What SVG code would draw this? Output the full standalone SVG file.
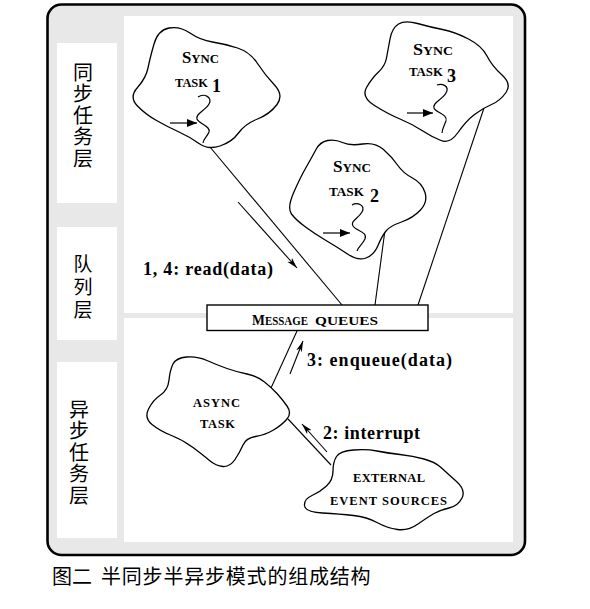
<svg xmlns="http://www.w3.org/2000/svg" width="590" height="609" viewBox="0 0 590 609">
<style>
.cloud{fill:#fff;stroke:#000;stroke-width:1.3}
.ln{fill:none;stroke:#000;stroke-width:1.1}
.sq{fill:none;stroke:#000;stroke-width:1.2}
.lbl{font-family:"Liberation Serif","Times New Roman",serif;font-weight:bold;fill:#000}
.cjk{font-family:"Noto Sans CJK SC","Noto Sans",sans-serif;fill:#000}
.vert{writing-mode:vertical-rl}
.panel{fill:#fff}
</style>
<defs>
<marker id="tri" markerWidth="10" markerHeight="8" refX="10" refY="4" orient="auto" markerUnits="userSpaceOnUse"><path d="M0,0 L10,4 L0,8 Z" fill="#000"/></marker>
<marker id="thin" markerWidth="11" markerHeight="6" refX="11" refY="3" orient="auto" markerUnits="userSpaceOnUse"><path d="M0,0 L11,3 L0,6 L3,3 Z" fill="#000"/></marker>
</defs>
<rect x="0" y="0" width="590" height="609" fill="#fff"/>
<g id="frame">
<rect x="47.5" y="4.5" width="477.5" height="550.5" rx="14" fill="#e8e8e8" stroke="#000" stroke-width="2.6"/>
<rect class="panel" x="57" y="43" width="60" height="160"/>
<rect class="panel" x="57" y="227" width="60" height="113"/>
<rect class="panel" x="57" y="362" width="60" height="176"/>
<rect class="panel" x="124" y="16" width="389" height="297"/>
<rect class="panel" x="124" y="318" width="389" height="224"/>
</g>
<g id="layer-labels" class="cjk">
<text class="vert" x="83" y="62" font-size="20" letter-spacing="1.5">同步任务层</text>
<text class="vert" x="83" y="254" font-size="19" letter-spacing="4">队列层</text>
<text class="vert" x="79" y="399" font-size="20" letter-spacing="1.5">异步任务层</text>
</g>
<g id="connectors">
<line class="ln" x1="210" y1="147" x2="342" y2="305"/>
<line class="ln" x1="385" y1="230" x2="375" y2="305"/>
<line class="ln" x1="484" y1="108" x2="418" y2="305"/>
<line class="ln" x1="271" y1="388" x2="297" y2="331"/>
<line class="ln" x1="288" y1="419" x2="331" y2="465"/>
<line class="ln" x1="238" y1="202" x2="297" y2="268" marker-end="url(#thin)"/>
<line class="ln" x1="290" y1="374" x2="303" y2="341" marker-end="url(#thin)"/>
<line class="ln" x1="327" y1="452" x2="302" y2="424" marker-end="url(#thin)"/>
<text class="lbl" x="143" y="275" font-size="18" textLength="130" lengthAdjust="spacing">1, 4: read(data)</text>
<text class="lbl" x="307" y="366" font-size="18" textLength="145" lengthAdjust="spacing">3: enqueue(data)</text>
<text class="lbl" x="323" y="439" font-size="18" textLength="97" lengthAdjust="spacing">2: interrupt</text>
</g>
<g id="sync1">
<path class="cloud" d="M154,44 Q158,30 169,28 Q180,26 190,33 Q200,40 212.5,42 Q225,44 237.5,48 Q250,52 257.5,63.5 Q265,75 274.5,85 Q284,95 277,104.5 Q270,114 257.5,119 Q245,124 238.5,133 Q232,142 220,146 Q208,150 199,143.5 Q190,137 179,132 Q168,127 156.5,120.5 Q145,114 137,105.5 Q129,97 137.5,87.5 Q146,78 148,68 Q150,58 154,44 Z"/>
<path class="sq" d="M198,97 C204,93 213,97 209,104 C205,111 195,114 197,119 C199,124 211,126 209,132 C207,137 203,139 203,143"/>
<line class="sq" x1="170" y1="123" x2="197" y2="123" marker-end="url(#tri)"/>
<text class="lbl" x="182" y="63" textLength="37" lengthAdjust="spacingAndGlyphs"><tspan font-size="17">S</tspan><tspan font-size="13">YNC</tspan></text>
<text class="lbl" x="175" y="87" font-size="12.5" textLength="33" lengthAdjust="spacingAndGlyphs">TASK</text>
<text class="lbl" x="212" y="92" font-size="18">1</text>
</g>
<g id="sync2">
<path class="cloud" d="M316,149.5 Q320,142 327.5,140.5 Q335,139 342.5,142.5 Q350,146 362.5,144 Q375,142 383.5,149.5 Q392,157 397.5,165 Q403,173 412.5,178 Q422,183 425,192.5 Q428,202 420.5,210 Q413,218 401.5,222 Q390,226 386,231 Q382,236 378,245.5 Q374,255 366,258 Q358,261 347.5,254 Q337,247 326,240.5 Q315,234 305.5,227 Q296,220 291.5,214 Q287,208 293.5,193 Q300,178 306,167.5 Q312,157 316,149.5 Z"/>
<path class="sq" d="M352,205 C357,202 366,205 362,212 C358,219 350,221 353,226 C356,231 368,232 365,239 C362,245 358,247 357,251"/>
<line class="sq" x1="323" y1="233" x2="350" y2="233" marker-end="url(#tri)"/>
<text class="lbl" x="333" y="172" textLength="38" lengthAdjust="spacingAndGlyphs"><tspan font-size="17">S</tspan><tspan font-size="13">YNC</tspan></text>
<text class="lbl" x="329" y="196" font-size="12.5" textLength="35" lengthAdjust="spacingAndGlyphs">TASK</text>
<text class="lbl" x="370" y="202" font-size="18">2</text>
</g>
<g id="sync3">
<path class="cloud" d="M390,39 Q392,28 398.5,24 Q405,20 417.5,23.5 Q430,27 442.5,29.5 Q455,32 468.5,39 Q482,46 487,56 Q492,66 502,75 Q512,84 506,92.5 Q500,101 491.5,104.5 Q483,108 474.5,114.5 Q466,121 458,132.5 Q450,144 441,140.5 Q432,137 422,130.5 Q412,124 400,119 Q388,114 374.5,105.5 Q361,97 366.5,87.5 Q372,78 378.5,72 Q385,66 386.5,58 Q388,50 390,39 Z"/>
<path class="sq" d="M437,85 C442,83 450,86 446,93 C442,100 432,103 434,108 C436,113 448,114 446,121 C444,126 442,129 442,133"/>
<line class="sq" x1="407" y1="113" x2="433" y2="113" marker-end="url(#tri)"/>
<text class="lbl" x="413" y="55" textLength="40" lengthAdjust="spacingAndGlyphs"><tspan font-size="17">S</tspan><tspan font-size="13">YNC</tspan></text>
<text class="lbl" x="409" y="76" font-size="12.5" textLength="34" lengthAdjust="spacingAndGlyphs">TASK</text>
<text class="lbl" x="447" y="82" font-size="18">3</text>
</g>
<g id="message-queues">
<rect x="207" y="305" width="221" height="25.5" fill="#fff" stroke="#000" stroke-width="1.4"/>
<text class="lbl" x="252" y="324.5" textLength="56" lengthAdjust="spacingAndGlyphs"><tspan font-size="15">M</tspan><tspan font-size="12">ESSAGE</tspan></text>
<text class="lbl" x="315" y="324.5" font-size="12.5" textLength="63" lengthAdjust="spacingAndGlyphs">QUEUES</text>
</g>
<g id="async-task">
<path class="cloud" d="M173,364 Q176,358 186.5,357 Q197,356 207,360.5 Q217,365 227,368.5 Q237,372 247,374 Q257,376 264.5,382 Q272,388 277,393.5 Q282,399 287,406 Q292,413 287,419 Q282,425 273.5,430 Q265,435 255.5,436.5 Q246,438 243,445 Q240,452 235,459.5 Q230,467 223,466.5 Q216,466 209.5,460.5 Q203,455 193,447.5 Q183,440 171.5,435.5 Q160,431 152,424.5 Q144,418 148.5,409 Q153,400 160.5,395 Q168,390 169,380 Q170,370 173,364 Z"/>
<text class="lbl" x="193" y="407" font-size="12.5" textLength="47" lengthAdjust="spacing">ASYNC</text>
<text class="lbl" x="200" y="428" font-size="12.5" textLength="35" lengthAdjust="spacing">TASK</text>
</g>
<g id="external-event-sources">
<path class="cloud" d="M336.5,456.5 Q340,451 353.5,450 Q367,449 377,451 Q387,453 400,454.5 Q413,456 424,459 Q435,462 441,467.5 Q447,473 456.5,481.5 Q466,490 462,498 Q458,506 449,508 Q440,510 434,513.5 Q428,517 418,524 Q408,531 397.5,529.5 Q387,528 377,522.5 Q367,517 353.5,515.5 Q340,514 322.5,513 Q305,512 304.5,505.5 Q304,499 312,495.5 Q320,492 326.5,486 Q333,480 333,471 Q333,462 336.5,456.5 Z"/>
<text class="lbl" x="353" y="482" font-size="12.5" textLength="72" lengthAdjust="spacing">EXTERNAL</text>
<text class="lbl" x="330" y="505" font-size="12.5" textLength="117" lengthAdjust="spacing">EVENT SOURCES</text>
</g>
<g id="caption" class="cjk" font-size="20">
<text x="52" y="584">图二<tspan x="101" letter-spacing="0.8">半同步半异步模式的组成结构</tspan></text>
</g>
</svg>
